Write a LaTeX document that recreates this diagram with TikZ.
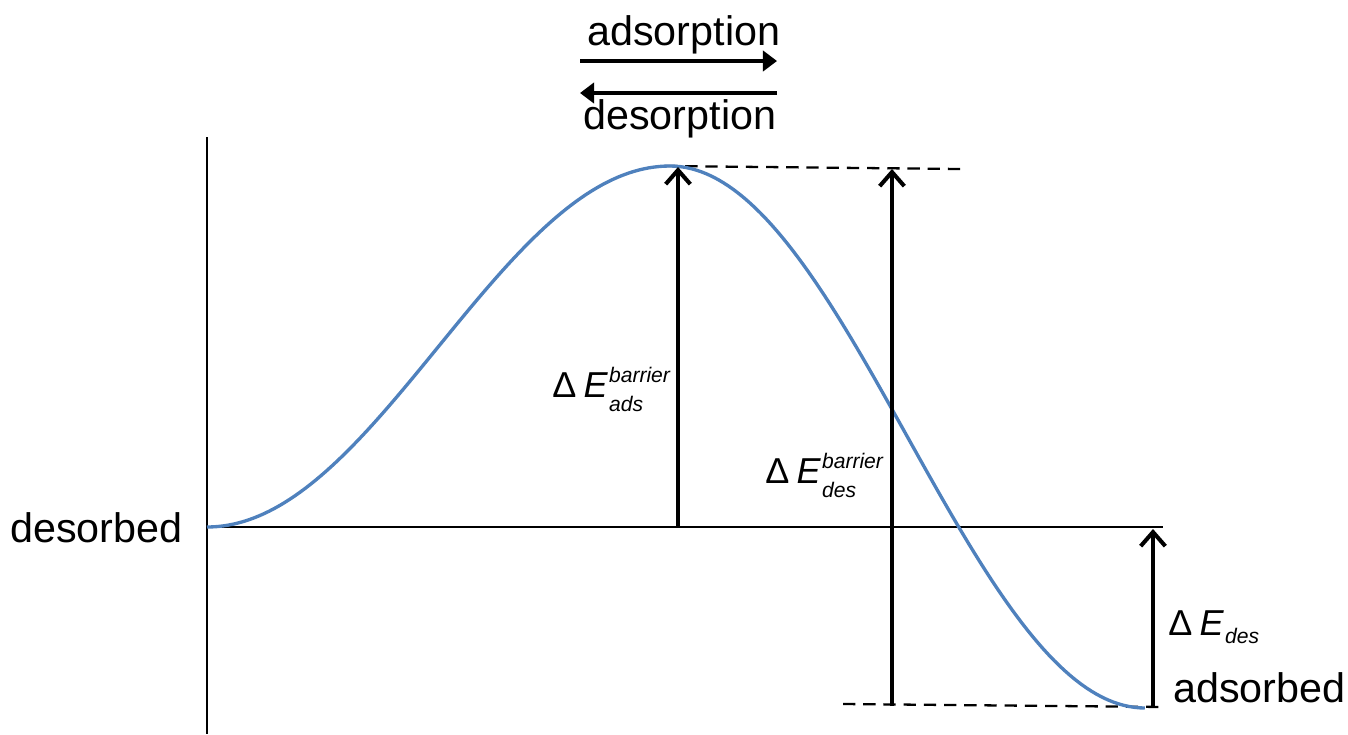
\documentclass[tikz,border=0pt]{standalone}
\usepackage{fontspec}
\setmainfont{Liberation Sans}
\usetikzlibrary{arrows.meta}
\definecolor{curveblue}{RGB}{79,129,189}
\newcommand{\dEx}[3]{Δ\hspace{0.2em}\textit{E}\hspace{0.03em}{\fontsize{12}{12}\selectfont\itshape\ooalign{\raisebox{#3}{#1}\cr\raisebox{-#3}{#2}\cr}}}
\begin{document}
\begin{tikzpicture}[x=0.02cm,y=-0.02cm,
  axis/.style={line width=1.4pt},
  curve/.style={line width=1.9pt, draw=curveblue},
  dashline/.style={line width=1.3pt, dash pattern=on 7pt off 4.5pt},
  energy/.style={line width=2.3pt, -{Straight Barb[length=8pt,width=14pt]}},
  procarrow/.style={line width=2.8pt, -{Triangle[length=8pt,width=11.5pt]}},
  lbl/.style={font=\fontsize{23.5}{28}\selectfont, inner sep=0pt, anchor=base west},
  elbl/.style={font=\fontsize{20.5}{24}\selectfont, inner sep=0pt, anchor=base west}]
\useasboundingbox (0,0) rectangle (1348,734);
% coordinates
\coordinate (axtop) at (207,137);
\coordinate (axbot) at (207,734);
\coordinate (origin) at (207,527);
\coordinate (hend) at (1163,527);
\coordinate (a1b) at (678,527);
\coordinate (a1t) at (678,167);
\coordinate (a2b) at (892,706);
\coordinate (a2t) at (892,169);
\coordinate (a3b) at (1153,706);
\coordinate (a3t) at (1153,529);
\coordinate (dt1) at (665,166);
\coordinate (dt2) at (960,169);
\coordinate (db1) at (843,704);
\coordinate (db2) at (1165,707);
\coordinate (pl) at (580,61);
\coordinate (pr) at (777,61);
\coordinate (ql) at (580,93);
\coordinate (qr) at (777,93);
% axes
\draw[axis] (axtop) -- (axbot);
\draw[axis] (origin) -- (hend);
% dashed
\draw[dashline] (dt1) -- (dt2);
\draw[dashline] (db1) -- (db2);
% curve
\draw[curve] plot[domain=0:1,samples=90] ({207+463*\x},{527-361*(1-cos(180*\x))/2})
  -- plot[domain=0:1,samples=90] ({670+475*\x},{166+542*(1-cos(180*\x))/2});
% energy arrows
\draw[energy] (a1b) -- (a1t);
\draw[energy] (a2b) -- (a2t);
\draw[energy] (a3b) -- (a3t);
% process arrows
\draw[procarrow] (pl) -- (pr);
\draw[procarrow] (qr) -- (ql);
% labels
\node[lbl] (ads) at (587,45) {adsorption};
\node[lbl] (des) at (583,129) {desorption};
\node[lbl] (desorbed) at (10,542) {desorbed};
\node[lbl] (adsorbed) at (1173,702) {adsorbed};
\node[elbl] (Eads) at (552,397) {\dEx{barrier}{ads}{8pt}};
\node[elbl] (Edesb) at (765,483) {\dEx{barrier}{des}{8pt}};
\node[elbl] (Edes) at (1168,635) {\dEx{}{des}{5pt}};
\end{tikzpicture}
\end{document}
